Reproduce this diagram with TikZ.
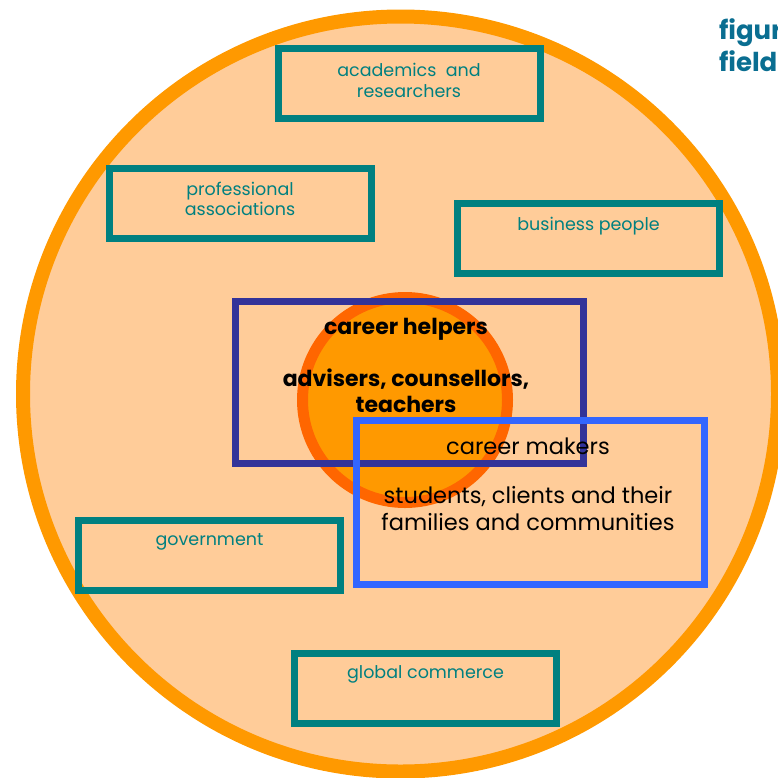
\documentclass[tikz,border=0pt]{standalone}
\usepackage{fontspec}
\setmainfont{Poppins}
\usepackage{xcolor}
\usetikzlibrary{positioning}
\definecolor{paleorange}{HTML}{FFCC99}
\definecolor{ringorange}{HTML}{FF9900}
\definecolor{coreorange}{HTML}{FF6600}
\definecolor{tealline}{HTML}{008080}
\definecolor{helperblue}{HTML}{333399}
\definecolor{makerblue}{HTML}{3366FF}
\definecolor{titleblue}{HTML}{0A6E91}

\begin{document}
\begin{tikzpicture}[x=1pt, y=-1pt,
    every node/.style={inner sep=0pt, outer sep=0pt},
    field/.style={circle, draw=ringorange, fill=paleorange, line width=14pt, minimum size=755pt},
    core/.style={circle, draw=coreorange, fill=ringorange, line width=11pt, minimum size=205pt},
    group/.style={draw=tealline, line width=7pt, minimum width=262pt, minimum height=70pt},
    grouptext/.style={text=tealline, align=center, font=\fontsize{17.5}{20.5}\selectfont},
    helpers/.style={draw=helperblue, line width=7pt, minimum width=348pt, minimum height=162pt},
    makers/.style={draw=makerblue, line width=7pt, minimum width=348pt, minimum height=164pt},
    roletext/.style={align=center, font=\fontsize{22.5}{26.5}\selectfont},
    titletext/.style={text=titleblue, align=left, font=\fontsize{26}{32}\selectfont\bfseries}
  ]
  \clip (0,0) rectangle (778,777);

  \node[field] (world) at (400.5,394) {};
  \node[core] (centre) at (405,400) {};

  \node[group] (acad) at (409,83.5) {};
  \node[grouptext, below=15pt of acad.north] (acadtext) {academics \ and\\researchers};
  \node[group] (prof) at (240,203) {};
  \node[grouptext, below=14pt of prof.north] (proftext) {professional\\associations};
  \node[group] (biz) at (588.5,238.5) {};
  \node[grouptext, below=14pt of biz.north] (biztext) {business people};
  \node[group] (gov) at (209.5,555) {};
  \node[grouptext, below=13pt of gov.north] (govtext) {government};
  \node[group] (trade) at (425.5,688) {};
  \node[grouptext, below=13pt of trade.north] (tradetext) {global commerce};

  \node[helpers] (helpbox) at (409.5,382.5) {};
  \node[roletext, anchor=base, font=\fontsize{22}{26}\selectfont\bfseries] (helptext) at (406,412)
    {career helpers\\[26pt]advisers, counsellors,\\teachers};
  \node[makers] (makebox) at (530.5,502.5) {};
  \node[roletext, anchor=base] (maketext) at (528,530)
    {career makers\\[23pt]students, clients and their\\families and communities};

  \node[titletext, anchor=north west] (title) at (719,19) {figure\\field};
\end{tikzpicture}
\end{document}
